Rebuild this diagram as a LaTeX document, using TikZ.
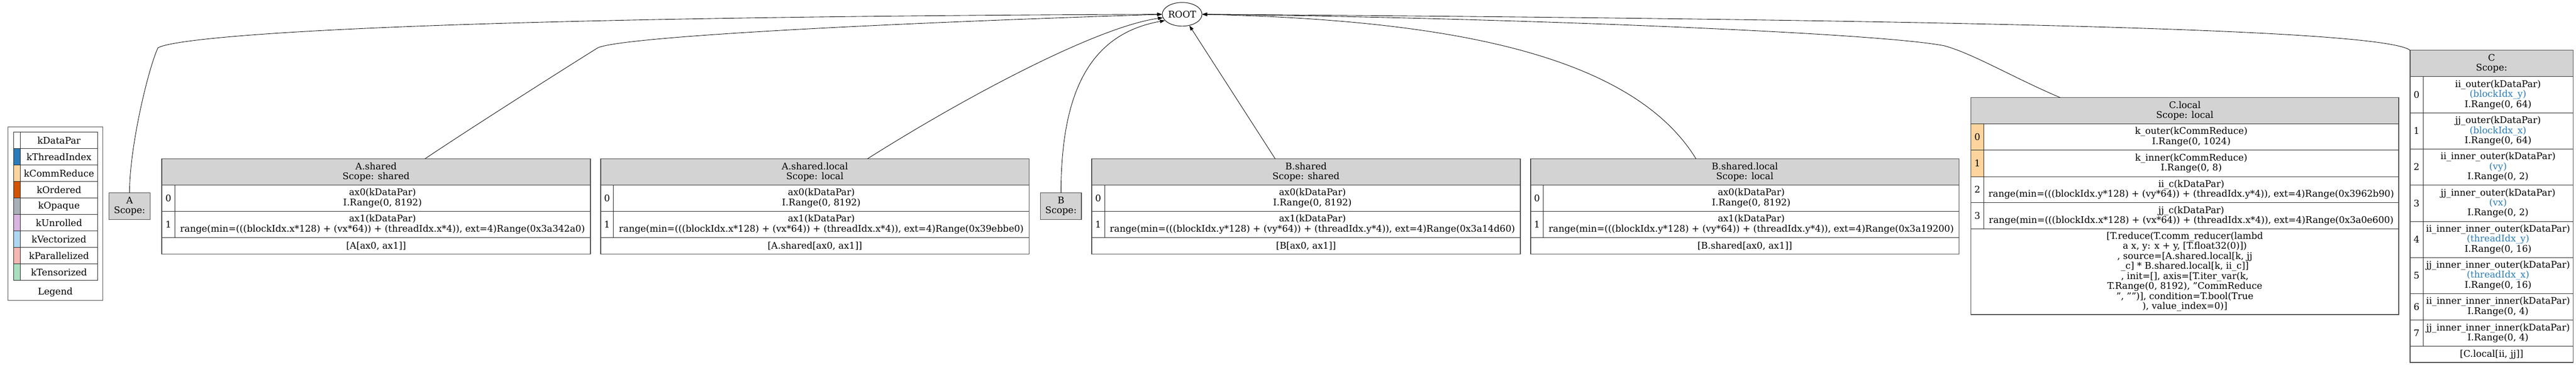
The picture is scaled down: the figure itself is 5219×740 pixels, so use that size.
\documentclass[tikz,border=0pt]{standalone}
\usepackage{fontspec}
\setmainfont{DejaVu Serif}
\usetikzlibrary{arrows.meta,shapes.geometric}
\definecolor{headgray}{HTML}{D3D3D3}
\definecolor{tidx}{HTML}{2B7BBA}
\definecolor{comm}{HTML}{FDD49E}
\definecolor{ordr}{HTML}{D35400}
\definecolor{opaq}{HTML}{A9B0B7}
\definecolor{unrl}{HTML}{D7B5E0}
\definecolor{vect}{HTML}{AED6F1}
\definecolor{para}{HTML}{F5B7B1}
\definecolor{tens}{HTML}{A9DFBF}
\newcommand\tabfont{\fontsize{18.6}{20.3}\selectfont}
\tikzset{
  cell/.style={draw=black!85, line width=1pt, inner sep=0pt, outer sep=0pt, align=center, anchor=north west},
  head/.style={cell, fill=headgray},
  idx/.style={cell, minimum width=26pt},
  leaf/.style={cell, fill=headgray, draw=black!70, line width=1.4pt, minimum width=83pt, minimum height=54pt},
  tabframe/.style={draw=black!70, line width=1.6pt},
  link/.style={-{Triangle[length=10pt,width=7pt]}, line width=0.9pt},
}
\begin{document}
\begin{tikzpicture}[x=1pt,y=-1pt,font=\tabfont]
\useasboundingbox (0,0) rectangle (5219,740);
% root
\node[draw, ellipse, line width=1pt, minimum width=72pt, minimum height=48pt, inner sep=0pt] (ROOT) at (2395,29) {ROOT};
% legend
\node[cell, draw=black!70, line width=1.4pt, minimum width=192pt, minimum height=352pt] (legend) at (16,257) {};
\foreach \k/\c [count=\i from 0] in {kDataPar/white, kThreadIndex/tidx, kCommReduce/comm, kOrdered/ordr, kOpaque/opaq, kUnrolled/unrl, kVectorized/vect, kParallelized/para, kTensorized/tens}{
  \node[cell, fill=\c, minimum width=13pt, minimum height=33.4pt] (sw\i) at (28,268+33.4*\i) {};
  \node[cell, minimum width=157pt, minimum height=33.4pt] (key\i) at (sw\i.north east) {\k};
}
\node (legtitle) at (112,593) {Legend};
% buffers without scope
\node[leaf] (A) at (221,391) {A\\Scope:};
\node[leaf] (B) at (2108,391) {B\\Scope:};
% shared / local copies
\foreach \n/\x/\ttl/\sc/\ax/\hex/\src in {Ash/328/A.shared/shared/x/3a342a0/A, Ashl/1217/A.shared.local/local/x/39ebbe0/A.shared, Bsh/2212/B.shared/shared/y/3a14d60/B, Bshl/3101/B.shared.local/local/y/3a19200/B.shared}{
  \node[head, minimum width=868pt, minimum height=53pt] (\n H) at (\x,322) {\ttl\\Scope: \sc};
  \node[idx, minimum height=53pt] (\n 0i) at (\n H.south west) {0};
  \node[cell, minimum width=842pt, minimum height=53pt] (\n 0) at (\n 0i.north east) {ax0(kDataPar)\\I.Range(0, 8192)};
  \node[idx, minimum height=54pt] (\n 1i) at (\n 0i.south west) {1};
  \node[cell, minimum width=842pt, minimum height=54pt] (\n 1) at (\n 1i.north east) {ax1(kDataPar)\\range(min=(((blockIdx.\ax*128) + (v\ax*64)) + (threadIdx.\ax*4)), ext=4)Range(0x\hex)};
  \node[cell, minimum width=868pt, minimum height=33pt] (\n F) at (\n 1i.south west) {[\src[ax0, ax1]]};
  \draw[tabframe] (\n H.north west) rectangle (\n F.south east);
}
% C.local
\node[head, minimum width=867pt, minimum height=53pt] (ClH) at (3993,198) {C.local\\Scope: local};
\node[idx, fill=comm, minimum height=53pt] (Cl0i) at (ClH.south west) {0};
\node[cell, minimum width=841pt, minimum height=53pt] (Cl0) at (Cl0i.north east) {k\_outer(kCommReduce)\\I.Range(0, 1024)};
\node[idx, fill=comm, minimum height=54pt] (Cl1i) at (Cl0i.south west) {1};
\node[cell, minimum width=841pt, minimum height=54pt] (Cl1) at (Cl1i.north east) {k\_inner(kCommReduce)\\I.Range(0, 8)};
\node[idx, minimum height=53pt] (Cl2i) at (Cl1i.south west) {2};
\node[cell, minimum width=841pt, minimum height=53pt] (Cl2) at (Cl2i.north east) {ii\_c(kDataPar)\\range(min=(((blockIdx.y*128) + (vy*64)) + (threadIdx.y*4)), ext=4)Range(0x3962b90)};
\node[idx, minimum height=53pt] (Cl3i) at (Cl2i.south west) {3};
\node[cell, minimum width=841pt, minimum height=53pt] (Cl3) at (Cl3i.north east) {jj\_c(kDataPar)\\range(min=(((blockIdx.x*128) + (vx*64)) + (threadIdx.x*4)), ext=4)Range(0x3a0e600)};
\node[cell, minimum width=867pt, minimum height=174pt] (ClF) at (Cl3i.south west) {[T.reduce(T.comm\_reducer(lambd\\a x, y: x + y, [T.float32(0)])\\, source=[A.shared.local[k, jj\\\_c] * B.shared.local[k, ii\_c]]\\, init=[], axis=[T.iter\_var(k,\\T.Range(0, 8192), "CommReduce\\", "")], condition=T.bool(True\\), value\_index=0)]};
\draw[tabframe] (ClH.north west) rectangle (ClF.south east);
% C
\node[head, minimum width=330pt, minimum height=53pt] (CH) at (4883,102) {C\\Scope:};
\foreach \i/\y/\h/\txt in {
  {0/155/74/ii\_outer(kDataPar)\\\textcolor{tidx}{(blockIdx\_y)}\\I.Range(0, 64)},
  {1/229/73/jj\_outer(kDataPar)\\\textcolor{tidx}{(blockIdx\_x)}\\I.Range(0, 64)},
  {2/302/73/ii\_inner\_outer(kDataPar)\\\textcolor{tidx}{(vy)}\\I.Range(0, 2)},
  {3/375/74/jj\_inner\_outer(kDataPar)\\\textcolor{tidx}{(vx)}\\I.Range(0, 2)},
  {4/449/73/ii\_inner\_inner\_outer(kDataPar)\\\textcolor{tidx}{(threadIdx\_y)}\\I.Range(0, 16)},
  {5/522/73/jj\_inner\_inner\_outer(kDataPar)\\\textcolor{tidx}{(threadIdx\_x)}\\I.Range(0, 16)},
  {6/595/54/ii\_inner\_inner\_inner(kDataPar)\\I.Range(0, 4)},
  {7/649/53/jj\_inner\_inner\_inner(kDataPar)\\I.Range(0, 4)}}{
  \node[idx, minimum height=\h pt] (C\i i) at (4883,\y) {\i};
  \node[cell, minimum width=304pt, minimum height=\h pt] (C\i) at (C\i i.north east) {\txt};
}
\node[cell, minimum width=330pt, minimum height=33pt] (CF) at (4883,702) {[C.local[ii, jj]]};
\draw[tabframe] (CH.north west) rectangle (CF.south east);
% edges to root
\draw[link] (A.north) .. controls (262,300) and (300,140) .. (320,97) .. controls (350,78) and (700,35) .. (ROOT.west);
\draw[link] (AshH.15) .. controls (950,262) and (1150,135) .. (1211,97) .. controls (1250,78) and (1650,52) .. (ROOT.west);
\draw[link] (AshlH.14) .. controls (1950,200) and (2220,55) .. (ROOT.190);
\draw[link] (B.north) .. controls (2150,200) and (2200,70) .. (ROOT.200);
\draw[link] (BshH.157.8) -- (ROOT);
\draw[link] (BshlH.165.8) .. controls (3300,100) and (2900,40) .. (ROOT.east);
\draw[link] (ClH.174.3) .. controls (4080,158) and (4000,110) .. (3940,93) .. controls (3800,65) and (3000,35) .. (ROOT.east);
\draw[link] (CH.north west) .. controls (4830,60) and (4000,40) .. (ROOT.east);
\end{tikzpicture}
\end{document}
